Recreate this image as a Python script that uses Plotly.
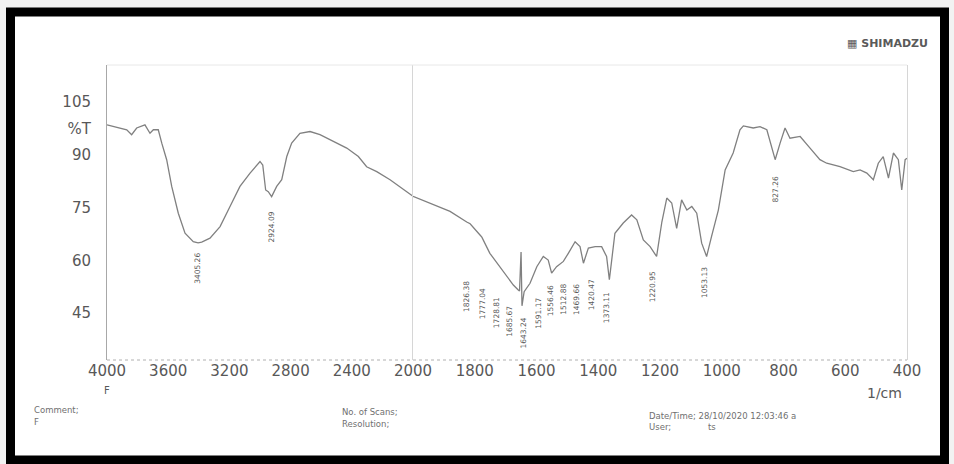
import plotly.graph_objects as go
from plotly.subplots import make_subplots

# ---------------- data ----------------
wavenumber = [4000, 3915, 3871, 3839, 3806, 3752, 3719, 3697, 3665, 3642, 3610, 3577,
              3534, 3490, 3436, 3405, 3381, 3327, 3261, 3196, 3131, 3065, 3000, 2982,
              2963, 2946, 2924, 2891, 2858, 2825, 2793, 2739, 2673, 2608, 2521, 2433,
              2357, 2303, 2237, 2150, 2041, 2000,
              1945, 1880, 1826, 1815, 1783, 1777, 1751, 1729, 1724, 1697, 1686, 1675,
              1659, 1655, 1650, 1647, 1640, 1621, 1599, 1578, 1562, 1551, 1535, 1513,
              1497, 1475, 1459, 1448, 1432, 1410, 1389, 1373, 1364, 1356, 1346, 1319,
              1292, 1275, 1254, 1232, 1211, 1194, 1178, 1162, 1146, 1130, 1113, 1097,
              1081, 1065, 1049, 1033, 1011, 989, 963, 941, 930, 898, 876, 854, 838,
              827, 811, 795, 779, 746, 714, 682, 660, 617, 574, 552, 530, 509, 493,
              477, 460, 444, 428, 417, 406, 400]
transmittance = [98.5, 97.6, 97.1, 95.7, 97.6, 98.5, 96.1, 97.1, 97.1, 93.3, 88.6, 81.0,
                 73.4, 67.7, 65.3, 65.0, 65.2, 66.3, 69.6, 75.3, 81.0, 84.8, 88.1, 87.1,
                 80.0, 79.5, 78.1, 81.0, 82.9, 89.5, 93.3, 96.1, 96.6, 95.7, 93.8, 91.9,
                 89.5, 86.6, 85.2, 82.9, 79.5, 78.2,
                 76.3, 73.9, 70.9, 70.4, 67.2, 66.6, 62.0, 59.3, 58.9, 55.4, 54.1, 53.0,
                 51.6, 51.3, 62.4, 47.1, 51.1, 53.5, 58.2, 61.1, 60.1, 56.4, 58.2, 59.7,
                 62.0, 65.3, 63.9, 59.2, 63.5, 63.9, 63.9, 61.1, 54.5, 61.1, 67.7, 70.6,
                 72.9, 71.5, 65.8, 63.9, 61.1, 70.9, 77.7, 76.3, 69.1, 77.2, 74.3, 75.3,
                 73.4, 64.9, 61.1, 66.8, 74.3, 85.7, 90.5, 97.1, 98.2, 97.6, 98.0, 97.1, 92.3,
                 88.6, 93.3, 97.6, 94.7, 95.2, 91.9, 88.6, 87.6, 86.6, 85.2, 85.7, 84.8, 82.9, 87.6,
                 89.5, 83.4, 90.5, 88.6, 80.0, 88.6, 89.0]

peak_wn = [3405, 2924, 1826, 1777, 1729, 1686, 1643, 1592, 1556, 1513, 1470, 1421,
           1373, 1223, 1054, 827]
peak_label_t = [57.6, 69.5, 49.8, 47.8, 45.2, 42.8, 39.3, 45.1, 48.4, 48.9, 48.9, 50.3,
                46.6, 52.6, 53.6, 80.2]
peak_text = ["3405.26", "2924.09", "1826.38", "1777.04", "1728.81", "1685.67", "1643.24",
             "1591.17", "1556.46", "1512.88", "1469.66", "1420.47", "1373.11", "1220.95",
             "1053.13", "827.26"]

x_ticks_left = [4000, 3600, 3200, 2800, 2400, 2000]
x_ticks_right = [1800, 1600, 1400, 1200, 1000, 800, 600, 400]
y_ticks = [45, 60, 75, 90, 97.5, 105]
y_tick_text = ["45", "60", "75", "90", "%T", "105"]

# ---------------- figure ----------------
W, H = 954, 464
ML, MR, MT, MB = 107, 47, 65, 104
PW, PH = W - ML - MR, H - MT - MB


def px(x):
    return (x - ML) / PW


def py(y):
    return (H - MB - y) / PH


FONT = "DejaVu Sans"
TXT = "#585858"
LINE = "#808080"

fig = make_subplots(rows=1, cols=2, shared_yaxes=True,
                    column_widths=[306, 494], horizontal_spacing=0)

left_w = [w for w in wavenumber if w >= 2000]
left_t = [t for w, t in zip(wavenumber, transmittance) if w >= 2000]
right_w = [w for w in wavenumber if w <= 2000]
right_t = [t for w, t in zip(wavenumber, transmittance) if w <= 2000]

fig.add_trace(go.Scatter(x=left_w, y=left_t, mode="lines",
                         line=dict(color=LINE, width=1.3), hoverinfo="skip",
                         showlegend=False), row=1, col=1)
fig.add_trace(go.Scatter(x=right_w, y=right_t, mode="lines",
                         line=dict(color=LINE, width=1.3), hoverinfo="skip",
                         showlegend=False), row=1, col=2)

tickfont = dict(family=FONT, size=15, color=TXT)
fig.update_xaxes(row=1, col=1, range=[4000, 2000], tickvals=x_ticks_left,
                 ticktext=[str(v) for v in x_ticks_left], tickfont=tickfont,
                 showgrid=False, zeroline=False, showline=False, ticks="")
fig.update_xaxes(row=1, col=2, range=[2000, 400], tickvals=x_ticks_right,
                 ticktext=[str(v) for v in x_ticks_right], tickfont=tickfont,
                 showgrid=False, zeroline=False, showline=False, ticks="")
fig.update_yaxes(row=1, col=1, range=[31.7, 115.5], tickvals=y_ticks,
                 ticktext=y_tick_text, tickfont=tickfont, showgrid=False,
                 zeroline=False, showline=True, linecolor="#a8a8a8", linewidth=1,
                 ticks="", ticklabelstandoff=12)
fig.update_yaxes(row=1, col=2, showgrid=False, zeroline=False, showline=True,
                 mirror=True, linecolor="#d6d6d6", linewidth=1, ticks="",
                 showticklabels=False)

annotations = []
for w, t, s in zip(peak_wn, peak_label_t, peak_text):
    annotations.append(dict(x=w, y=t, xref="x" if w > 2000 else "x2", yref="y",
                            text=s, showarrow=False, textangle=-90,
                            xanchor="center", yanchor="middle",
                            font=dict(family=FONT, size=7.5, color="#5a5a5a")))


def note(text, x, y, size, anchor="left", color=TXT, weight="normal"):
    annotations.append(dict(x=px(x), y=py(y), xref="paper", yref="paper",
                            text=text, showarrow=False, xanchor=anchor,
                            yanchor="middle",
                            font=dict(family=FONT, size=size, color=color,
                                      weight=weight)))


note("F", 107, 390, 10, "center")
note("1/cm", 884, 393, 14, "center")
note("Comment;", 32, 410, 8.5, color="#707070")
note("F", 32, 422, 8.5, color="#707070")
note("No. of Scans;", 340, 412, 8.5, color="#707070")
note("Resolution;", 340, 424, 8.5, color="#707070")
note("Date/Time; 28/10/2020 12:03:46 a", 647, 416, 8.5, color="#707070")
note("User;", 647, 427, 8.5, color="#707070")
note("ts", 706, 427, 8.5, color="#707070")
note("▦ SHIMADZU", 930, 43, 11, "right", "#5a5a5a", "bold")

shapes = [
    # outer black frame of the scanned sheet
    dict(type="rect", xref="paper", yref="paper",
         x0=px(10.5), x1=px(944.5), y0=py(460), y1=py(12),
         line=dict(color="black", width=9), fillcolor="white", layer="below"),
    # dotted baseline of the abscissa
    dict(type="line", xref="paper", yref="paper", x0=0, x1=1, y0=0, y1=0,
         line=dict(color="#b0b0b0", width=1, dash="dot")),
    # faint top frame
    dict(type="line", xref="paper", yref="paper", x0=0, x1=1, y0=1, y1=1,
         line=dict(color="#e8e8e8", width=1)),
]

fig.update_layout(
    width=W, height=H,
    margin=dict(l=ML, r=MR, t=MT, b=MB),
    paper_bgcolor="#f2f2f2", plot_bgcolor="white",
    showlegend=False,
    annotations=annotations,
    shapes=shapes,
    font=dict(family=FONT, color=TXT),
)

fig.write_html("out.html")
